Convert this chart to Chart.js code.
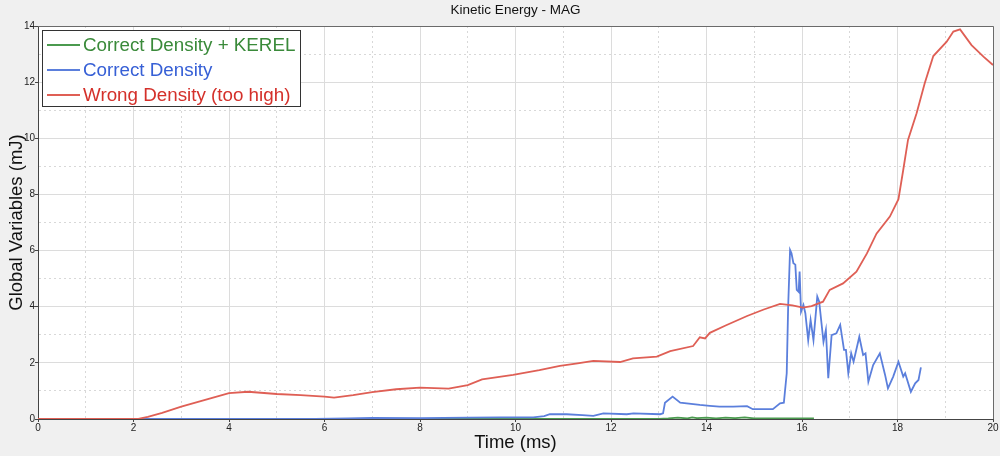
<!DOCTYPE html>
<html>
<head>
<meta charset="utf-8">
<script src="https://cdn.jsdelivr.net/npm/chart.js@4.4.1/dist/chart.umd.min.js"></script>
<style>
  html, body { margin: 0; padding: 0; background: #f0f0f0; }
  #wrap { width: 1000px; height: 456px; position: relative; }
</style>
</head>
<body>
<div id="wrap"><canvas id="myChart"></canvas></div>
<script>
// series: time (ms) and kinetic energy (mJ)
const greenTime = [0, 13.0, 13.2, 13.4, 13.6, 13.7, 13.8, 14.0, 14.2, 14.4, 14.6, 14.8, 15.0, 15.5, 16.25];
const greenKE = [0, 0, 0.02, 0.05, 0.02, 0.06, 0.03, 0.05, 0.02, 0.05, 0.03, 0.06, 0.02, 0.02, 0.02];

const blueTime = [0, 5.8, 6.5, 7.0, 8.0, 9.0, 9.68, 10.37, 10.6, 10.72, 11.07, 11.4, 11.63, 11.84, 12.33, 12.47,
    13.03, 13.09, 13.13, 13.29, 13.45, 13.86, 14.07, 14.27, 14.56, 14.85, 14.97, 15.39, 15.54, 15.62,
    15.68, 15.71, 15.75, 15.78, 15.82, 15.86, 15.89, 15.93, 15.95, 15.98, 16.03, 16.07, 16.13, 16.18,
    16.24, 16.32, 16.36, 16.45, 16.5, 16.55, 16.62, 16.72, 16.8, 16.88, 16.92, 16.97, 17.03, 17.08,
    17.2, 17.28, 17.33, 17.39, 17.49, 17.63, 17.74, 17.8, 17.91, 18.02, 18.12, 18.16, 18.28, 18.37,
    18.44, 18.49];
const blueKE = [0, 0, 0.02, 0.04, 0.03, 0.05, 0.06, 0.06, 0.1, 0.17, 0.17, 0.14, 0.11, 0.2, 0.17, 0.2,
    0.17, 0.2, 0.58, 0.8, 0.58, 0.5, 0.47, 0.44, 0.44, 0.46, 0.35, 0.35, 0.56, 0.58,
    1.63, 4.0, 6.02, 5.9, 5.55, 5.5, 4.6, 4.53, 5.25, 3.82, 4.06, 3.77, 2.81, 3.53,
    2.81, 4.36, 4.18, 2.75, 3.17, 1.45, 2.99, 3.05, 3.35, 2.46, 2.46, 1.63, 2.34, 2.04,
    2.93, 2.28, 2.34, 1.33, 1.92, 2.34, 1.57, 1.09, 1.51, 2.04, 1.51, 1.63, 0.97, 1.27,
    1.39, 1.84];

const redTime = [0, 2.1, 2.3, 2.6, 3.0, 3.5, 4.0, 4.4, 5.0, 5.5, 6.0, 6.2, 6.6, 7.0, 7.5, 8.0, 8.6, 9.0,
    9.3, 9.95, 10.5, 10.93, 11.3, 11.63, 12.19, 12.46, 12.96, 13.24, 13.72, 13.86, 13.97, 14.07,
    14.4, 14.85, 15.2, 15.54, 15.8, 16.02, 16.2, 16.44, 16.58, 16.86, 17.14, 17.36, 17.56, 17.84,
    18.02, 18.12, 18.22, 18.4, 18.57, 18.75, 19.03, 19.17, 19.31, 19.55, 19.8, 20.0];
const redKE = [0, 0, 0.08, 0.22, 0.44, 0.68, 0.92, 0.97, 0.89, 0.85, 0.8, 0.76, 0.85, 0.96, 1.06, 1.12, 1.08, 1.21,
    1.41, 1.57, 1.74, 1.89, 1.98, 2.07, 2.03, 2.16, 2.22, 2.42, 2.6, 2.91, 2.87, 3.07,
    3.33, 3.67, 3.9, 4.1, 4.05, 3.97, 4.02, 4.18, 4.6, 4.83, 5.25, 5.9, 6.6, 7.21,
    7.83, 8.87, 9.94, 10.89, 11.96, 12.93, 13.44, 13.8, 13.88, 13.32, 12.91, 12.61];

const seriesNames = ['Correct Density + KEREL', 'Correct Density', 'Wrong Density (too high)'];
const xTicks = [0, 2, 4, 6, 8, 10, 12, 14, 16, 18, 20];
const yTicks = [0, 2, 4, 6, 8, 10, 12, 14];

const FONT = 'Arial, "Liberation Sans", sans-serif';
const lineColors = ['#4b9a4f', '#5b7fdc', '#df5f55'];
const textColors = ['#3a8a3a', '#3760d6', '#d4302a'];

function pts(t, v) {
    return t.map((x, i) => ({ x: x, y: v[i] }));
}

const data = {
    datasets: [
        { label: seriesNames[0], data: pts(greenTime, greenKE), borderColor: lineColors[0], order: 2 },
        { label: seriesNames[1], data: pts(blueTime, blueKE), borderColor: lineColors[1], order: 1 },
        { label: seriesNames[2], data: pts(redTime, redKE), borderColor: lineColors[2], order: 0 }
    ]
};

const isMajor = (list) => (ctx) => ctx.tick && list.includes(ctx.tick.value);

// white plot area, frame, title and the boxed legend
const decor = {
    id: 'decor',
    beforeDraw(chart) {
        const { ctx, chartArea: a } = chart;
        ctx.save();
        ctx.fillStyle = '#ffffff';
        ctx.fillRect(a.left, a.top, a.right - a.left, a.bottom - a.top);
        ctx.restore();
    },
    afterDraw(chart) {
        const { ctx, chartArea: a } = chart;
        ctx.save();
        ctx.strokeStyle = '#6a6a6a';
        ctx.lineWidth = 1;
        ctx.beginPath();
        ctx.moveTo(a.left, a.top + 0.5);
        ctx.lineTo(a.right + 0.5, a.top + 0.5);
        ctx.lineTo(a.right + 0.5, a.bottom);
        ctx.stroke();

        ctx.fillStyle = '#111';
        ctx.font = '13.5px ' + FONT;
        ctx.textAlign = 'center';
        ctx.textBaseline = 'middle';
        ctx.fillText('Kinetic Energy - MAG', (a.left + a.right) / 2, 10);

        // legend box
        const bx = 42.5, by = 30.5, bw = 258, bh = 76;
        ctx.fillStyle = '#ffffff';
        ctx.fillRect(bx, by, bw, bh);
        ctx.strokeStyle = '#333';
        ctx.strokeRect(bx, by, bw, bh);
        ctx.font = '18.8px ' + FONT;
        ctx.textAlign = 'left';
        seriesNames.forEach((name, i) => {
            const y = 45 + i * 25;
            ctx.strokeStyle = lineColors[i];
            ctx.lineWidth = 2;
            ctx.beginPath();
            ctx.moveTo(47, y);
            ctx.lineTo(80, y);
            ctx.stroke();
            ctx.fillStyle = textColors[i];
            ctx.fillText(name, 83, y + 1);
        });
        ctx.restore();
    }
};

const config = {
    type: 'line',
    data,
    options: {
        responsive: true,
        maintainAspectRatio: false,
        animation: false,
        layout: { padding: { top: 26, right: 7, left: 0, bottom: 0 } },
        elements: {
            point: { radius: 0 },
            line: { borderWidth: 1.8, tension: 0 }
        },
        plugins: {
            legend: { display: false },
            title: { display: false },
            tooltip: { enabled: false }
        },
        scales: {
            x: {
                type: 'linear',
                min: 0,
                max: 20,
                afterFit: (s) => { s.height = 37; },
                ticks: {
                    stepSize: 1,
                    autoSkip: false,
                    maxRotation: 0,
                    padding: 0,
                    color: '#222',
                    font: { size: 10, family: FONT },
                    callback: (v) => xTicks.includes(v) ? String(v) : ''
                },
                grid: {
                    color: (c) => isMajor(xTicks)(c) ? '#dcdcdc' : '#d8d8d8',
                    tickLength: 3,
                    tickColor: (c) => isMajor(xTicks)(c) ? '#444' : 'rgba(0,0,0,0)'
                },
                border: {
                    color: '#444',
                    width: 1,
                    dash: (c) => isMajor(xTicks)(c) ? [] : [2, 3]
                },
                title: {
                    display: true,
                    text: 'Time (ms)',
                    color: '#111',
                    font: { size: 18.5, family: FONT },
                    padding: { top: 0, bottom: 2 }
                }
            },
            y: {
                min: 0,
                max: 14,
                afterFit: (s) => { s.width = 38; },
                ticks: {
                    stepSize: 1,
                    padding: 0,
                    color: '#222',
                    font: { size: 10, family: FONT },
                    callback: (v) => yTicks.includes(v) ? String(v) : ''
                },
                grid: {
                    color: (c) => isMajor(yTicks)(c) ? '#dcdcdc' : '#d8d8d8',
                    tickLength: 3,
                    tickColor: (c) => isMajor(yTicks)(c) ? '#444' : 'rgba(0,0,0,0)'
                },
                border: {
                    color: '#444',
                    width: 1,
                    dash: (c) => isMajor(yTicks)(c) ? [] : [2, 3]
                },
                title: {
                    display: true,
                    text: 'Global Variables (mJ)',
                    color: '#111',
                    font: { size: 18.5, family: FONT },
                    padding: { top: 6, bottom: 0 }
                }
            }
        }
    },
    plugins: [decor]
};

const myChart = new Chart(document.getElementById('myChart'), config);
</script>
</body>
</html>
